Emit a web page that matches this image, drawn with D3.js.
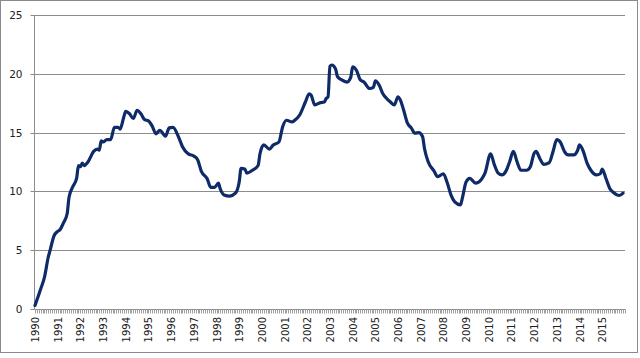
<!DOCTYPE html>
<html>
<head>
<meta charset="utf-8">
<script src="https://cdn.jsdelivr.net/npm/d3@7"></script>
<style>
html,body{margin:0;padding:0;background:#fff;}
svg{display:block;}
</style>
</head>
<body>
<svg id="chart" width="640" height="358"></svg>
<script>
// Readings (month, value)
const dates = ["1990-01","1990-04","1990-06","1990-08","1990-09","1990-11","1991-01","1991-02","1991-04","1991-06","1991-07","1991-09","1991-11","1991-12",
"1992-01","1992-02","1992-03","1992-05","1992-08","1992-10","1992-11","1992-12","1993-01","1993-03","1993-05","1993-07","1993-09","1993-10","1993-12",
"1994-01","1994-03","1994-05","1994-07","1994-09","1994-11","1995-01","1995-03","1995-05","1995-07","1995-10","1995-12","1996-02","1996-05","1996-07","1996-10",
"1997-01","1997-03","1997-05","1997-08","1997-10","1997-12","1998-02","1998-03","1998-05","1998-08","1998-11","1999-01","1999-02","1999-04","1999-05","1999-08","1999-11","1999-12",
"2000-02","2000-05","2000-07","2000-10","2000-12","2001-02","2001-05","2001-06","2001-09","2001-12","2002-02","2002-03","2002-05","2002-08","2002-10","2002-11","2002-12",
"2003-01","2003-02","2003-04","2003-05","2003-07","2003-10","2003-12","2004-01","2004-03","2004-05","2004-07","2004-10","2004-12",
"2005-01","2005-03","2005-05","2005-07","2005-09","2005-11","2006-01","2006-02","2006-04","2006-06","2006-08","2006-10","2006-12",
"2007-02","2007-03","2007-05","2007-08","2007-10","2008-01","2008-03","2008-05","2008-07","2008-10","2008-11","2009-01","2009-03","2009-06","2009-09","2009-11",
"2010-02","2010-04","2010-06","2010-08","2010-10","2010-12","2011-02","2011-04","2011-06","2011-09","2011-11","2012-01","2012-02","2012-04","2012-06","2012-09","2012-11",
"2013-01","2013-03","2013-05","2013-07","2013-10","2013-12","2014-01","2014-03","2014-05","2014-07","2014-10","2014-12","2015-01","2015-03","2015-05","2015-07","2015-10","2015-12"];
const values = [0.3,1.7,2.7,4.4,5.0,6.2,6.6,6.7,7.3,8.1,9.5,10.4,11.1,12.2,
12.1,12.4,12.2,12.5,13.4,13.6,13.5,14.3,14.2,14.4,14.4,15.45,15.45,15.3,16.35,
16.8,16.6,16.2,16.9,16.6,16.1,16.0,15.55,14.9,15.2,14.7,15.4,15.45,14.6,13.8,13.2,
13.0,12.7,11.7,11.1,10.35,10.35,10.7,10.2,9.7,9.6,9.85,10.8,11.95,11.9,11.55,11.8,12.2,13.2,
13.95,13.6,13.95,14.2,15.5,16.05,15.9,16.0,16.5,17.6,18.3,18.2,17.35,17.55,17.6,17.9,18.05,
20.65,20.75,20.4,19.75,19.5,19.3,19.7,20.6,20.3,19.5,19.3,18.75,18.85,
19.4,19.05,18.3,17.9,17.6,17.35,18.05,17.85,16.9,15.8,15.4,14.95,15.0,
14.65,13.65,12.5,11.75,11.25,11.5,10.75,9.7,9.1,8.85,9.4,10.8,11.1,10.7,11.0,11.55,
13.2,12.25,11.55,11.4,11.7,12.5,13.4,12.5,11.8,11.8,12.1,13.25,13.4,12.8,12.3,12.45,13.4,
14.4,14.15,13.4,13.1,13.1,13.5,13.95,13.4,12.4,11.8,11.4,11.5,11.9,11.1,10.25,9.9,9.65,9.85];
const yearLabels = ["1990","1991","1992","1993","1994","1995","1996","1997","1998","1999","2000","2001","2002",
"2003","2004","2005","2006","2007","2008","2009","2010","2011","2012","2013","2014","2015"];
const yTicks = [0,5,10,15,20,25];
const firstYear = 1990, monthCount = 312;

const svg = d3.select("#chart");
const plot = {left:34, right:625, top:15, bottom:309};

// outer border
svg.append("rect").attr("x",0.5).attr("y",0.5).attr("width",637).attr("height",352)
  .attr("fill","#fff").attr("stroke","#8a8a8a").attr("stroke-width",1);

const monthIndex = s => { const [y,m] = s.split("-").map(Number); return (y-firstYear)*12 + (m-1); };
const data = dates.map((d,i)=>({i:monthIndex(d), v:values[i]}));

const x = d3.scaleLinear().domain([0, monthCount-1]).range([35, 623]);
const y = d3.scaleLinear().domain([0, 25]).range([plot.bottom, plot.top]);

// gridlines
svg.append("g").selectAll("line").data(yTicks.filter(t=>t>0)).join("line")
  .attr("x1",plot.left).attr("x2",plot.right)
  .attr("y1",d=>Math.round(y(d))+0.5).attr("y2",d=>Math.round(y(d))+0.5)
  .attr("stroke","#8c8c8c").attr("stroke-width",1);

// y axis
const yAxis = svg.append("g").attr("transform",`translate(${plot.left+0.5},0.5)`)
  .call(d3.axisLeft(y).tickValues(yTicks).tickSize(4).tickPadding(8).tickFormat(d3.format("d")));
yAxis.select(".domain").attr("stroke","#8c8c8c").attr("d",`M0,${y(25)}V${y(0)}`);
yAxis.selectAll(".tick line").attr("stroke","#8c8c8c");
yAxis.selectAll(".tick text").attr("font-family","DejaVu Sans, sans-serif").attr("font-size",10.5).attr("fill","#222");
yAxis.selectAll(".tick").attr("transform",d=>`translate(0,${Math.round(y(d))})`);

// x axis: minor ticks each month
const xAxis = svg.append("g").attr("transform",`translate(0.5,${plot.bottom+0.5})`)
  .call(d3.axisBottom(x).tickValues(d3.range(0, monthCount+1)).tickSize(4).tickFormat(""));
xAxis.select(".domain").attr("stroke","#8c8c8c").attr("d",`M${plot.left},0H${plot.right}`);
xAxis.selectAll(".tick line").attr("stroke","#a0a0a0");
xAxis.selectAll(".tick").attr("transform",d=>`translate(${Math.round(x(d))},0)`);

// year labels
svg.append("g").selectAll("text").data(yearLabels).join("text")
  .attr("transform",(d,i)=>`translate(${x(i*12)+4},${plot.bottom+8}) rotate(-90)`)
  .attr("text-anchor","end")
  .attr("font-family","DejaVu Sans, sans-serif").attr("font-size",10).attr("fill","#222")
  .text(d=>d);

// line
const line = d3.line().x(d=>x(d.i)).y(d=>y(d.v)).curve(d3.curveMonotoneX);
svg.append("path").datum(data).attr("d",line)
  .attr("fill","none").attr("stroke","#0f2a68").attr("stroke-width",3.2)
  .attr("stroke-linejoin","round").attr("stroke-linecap","round");
</script>
</body>
</html>
